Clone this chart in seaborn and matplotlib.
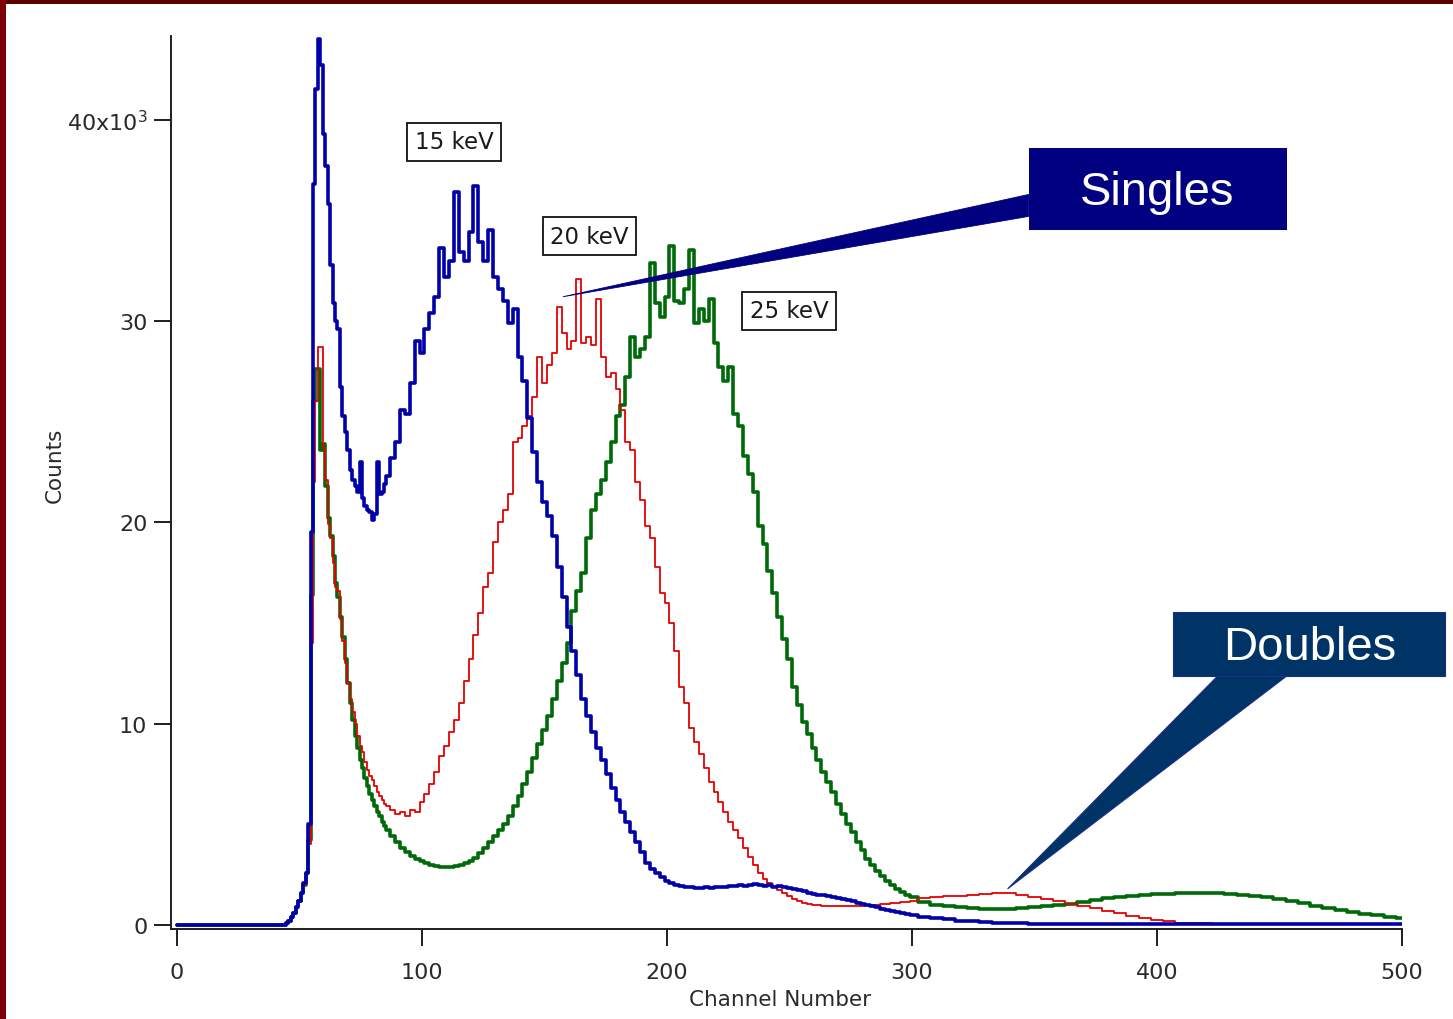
import numpy as np
import pandas as pd
import matplotlib
matplotlib.use("Agg")
import matplotlib.pyplot as plt
from matplotlib.patches import Polygon, Rectangle
import seaborn as sns

# ---------------------------------------------------------------------------
# Channel grid: flat pedestal, 1-channel bins through the low-energy spike,
# 2-channel bins across the main peaks, 5-channel bins in the tails.
# ---------------------------------------------------------------------------
CH_LEAD = [0, 44]
CH_FINE = list(range(45, 86))
CH_MID = list(range(86, 301, 2))
CH_TAIL = list(range(305, 501, 5))

# Counts (x10^3) per channel bin
lead_counts = [0.0, 0.0]

blue_fine = [0.1, 0.2, 0.4, 0.6, 0.9, 1.2, 1.6, 2.1, 2.6, 5.0,
             19.5, 36.8, 41.5, 44.0, 42.7, 39.3, 37.7, 35.8, 32.8, 30.9,
             30.0, 29.6, 26.7, 25.3, 24.5, 23.6, 22.6, 22.1, 21.8, 21.5,
             23.0, 21.2, 20.8, 20.6, 20.5, 20.1, 20.4, 23.0, 21.4, 21.5,
             21.9]
blue_mid = [22.3, 23.2, 24.0, 25.6, 25.4, 26.9, 29.0, 28.4, 29.6, 30.4,
            31.2, 33.6, 32.2, 33.0, 36.4, 33.4, 33.0, 34.4, 36.7, 33.9,
            33.0, 34.5, 32.2, 31.6, 31.0, 29.9, 30.6, 28.2, 27.0, 25.2,
            23.5, 22.0, 21.0, 20.3, 19.3, 17.8, 16.3, 14.8, 13.6, 12.4,
            11.2, 10.4, 9.6, 8.8, 8.2, 7.5, 6.8, 6.2, 5.6, 5.1,
            4.6, 4.1, 3.6, 3.1, 2.8, 2.6, 2.4, 2.2, 2.1, 2.0,
            1.95, 1.9, 1.9, 1.85, 1.85, 1.9, 1.85, 1.9, 1.9, 1.9,
            1.95, 1.95, 2.0, 1.95, 2.0, 2.05, 2.0, 1.95, 2.0, 1.9,
            1.95, 1.9, 1.85, 1.8, 1.75, 1.7, 1.6, 1.55,
            1.5, 1.47, 1.43, 1.4, 1.35, 1.3, 1.23, 1.17, 1.1, 1.05,
            0.99, 0.93, 0.87, 0.81, 0.75, 0.7, 0.64, 0.59, 0.54, 0.5]
blue_tail = [0.42, 0.35, 0.28, 0.22, 0.18, 0.14, 0.11, 0.09, 0.08, 0.07,
             0.07, 0.06, 0.06, 0.06, 0.05, 0.05, 0.05, 0.05, 0.05, 0.05,
             0.04, 0.04, 0.04, 0.04, 0.04, 0.03, 0.03, 0.03, 0.03, 0.03,
             0.03, 0.03, 0.03, 0.03, 0.03, 0.03, 0.03, 0.03, 0.03, 0.03]

red_fine = [0.1, 0.2, 0.4, 0.6, 0.9, 1.2, 1.6, 2.0, 2.6, 4.0,
            14.0, 22.0, 26.0, 28.7, 28.7, 23.7, 22.1, 19.9, 19.2, 18.0,
            16.8, 16.6, 15.2, 14.1, 13.0, 12.0, 11.2, 10.6, 10.0, 9.4,
            8.9, 8.6, 8.1, 7.7, 7.4, 7.2, 6.9, 6.6, 6.4, 6.2,
            6.0]
red_mid = [5.9, 5.7, 5.5, 5.6, 5.4, 5.7, 5.6, 6.1, 6.5, 7.0,
           7.6, 8.4, 8.9, 9.6, 10.2, 11.0, 12.1, 13.2, 14.4, 15.5,
           16.8, 17.5, 19.0, 20.0, 20.6, 21.4, 24.0, 24.2, 24.8, 25.3,
           26.2, 28.2, 26.9, 27.8, 28.4, 30.7, 29.4, 28.6, 29.0, 32.1,
           28.9, 29.2, 28.8, 31.1, 28.2, 27.2, 27.4, 26.6, 25.6, 24.0,
           23.6, 22.0, 21.1, 19.8, 19.2, 17.8, 16.5, 16.0, 15.0, 13.6,
           11.8, 11.0, 9.8, 9.1, 8.5, 7.8, 7.1, 6.6, 6.1, 5.6,
           5.1, 4.7, 4.3, 3.8, 3.4, 3.0, 2.6, 2.3, 2.1, 1.9,
           1.75, 1.6, 1.45, 1.3, 1.2, 1.1, 1.05, 1.0,
           0.98, 0.96, 0.95, 0.95, 0.94, 0.93, 0.92, 0.93, 0.94, 0.95,
           0.97, 0.99, 1.01, 1.03, 1.05, 1.07, 1.1, 1.13, 1.16, 1.2]
red_tail = [1.35, 1.4, 1.45, 1.45, 1.5, 1.55, 1.6, 1.6, 1.5, 1.4,
            1.3, 1.2, 1.05, 0.95, 0.85, 0.7, 0.6, 0.45, 0.35, 0.25,
            0.18, 0.12, 0.1, 0.08, 0.06, 0.05, 0.05, 0.05, 0.05, 0.05,
            0.05, 0.05, 0.05, 0.05, 0.05, 0.05, 0.05, 0.05, 0.05, 0.05]

green_fine = [0.1, 0.2, 0.4, 0.6, 0.9, 1.2, 1.6, 2.0, 2.6, 4.2,
              16.4, 26.0, 27.6, 27.6, 23.6, 23.9, 21.8, 20.2, 19.3, 18.3,
              17.0, 16.3, 15.3, 14.3, 13.2, 12.0, 11.0, 10.2, 9.4, 8.8,
              8.2, 7.8, 7.3, 6.9, 6.5, 6.2, 5.9, 5.6, 5.4, 5.1,
              4.9]
green_mid = [4.7, 4.4, 4.1, 3.8, 3.6, 3.45, 3.3, 3.2, 3.1, 3.0,
             2.95, 2.9, 2.9, 2.9, 2.95, 3.0, 3.1, 3.2, 3.35, 3.55,
             3.8, 4.1, 4.4, 4.7, 5.0, 5.4, 5.9, 6.4, 7.0, 7.6,
             8.3, 9.0, 9.7, 10.4, 11.2, 12.1, 13.0, 14.0, 15.6, 16.6,
             17.5, 19.2, 20.6, 21.4, 22.1, 23.0, 24.0, 25.3, 25.8, 27.2,
             29.2, 28.2, 28.6, 29.2, 32.9, 30.9, 30.2, 31.2, 33.7, 31.0,
             30.9, 31.6, 33.5, 29.9, 30.6, 30.0, 31.1, 28.9, 27.7, 27.0,
             27.7, 25.4, 24.8, 23.3, 22.4, 21.5, 19.8, 18.9, 17.6, 16.5,
             15.3, 14.2, 13.2, 11.8, 10.9, 10.1, 9.5, 8.8,
             8.2, 7.6, 7.1, 6.6, 6.0, 5.5, 5.0, 4.6, 4.1, 3.7,
             3.3, 3.0, 2.7, 2.45, 2.2, 2.0, 1.8, 1.65, 1.5, 1.4]
green_tail = [1.15, 1.0, 0.95, 0.9, 0.85, 0.8, 0.8, 0.8, 0.85, 0.9,
              0.95, 1.0, 1.05, 1.15, 1.25, 1.35, 1.4, 1.45, 1.5, 1.55,
              1.55, 1.6, 1.6, 1.6, 1.6, 1.55, 1.5, 1.45, 1.4, 1.3,
              1.2, 1.1, 0.95, 0.85, 0.75, 0.65, 0.55, 0.5, 0.4, 0.35]

SERIES = ["15 keV", "20 keV", "25 keV"]
COLORS = {"15 keV": "#0000aa", "20 keV": "#e60000", "25 keV": "#006a0a"}
WIDTHS = {"15 keV": 2.6, "20 keV": 1.3, "25 keV": 2.6}
ZORDER = {"15 keV": 4, "20 keV": 3, "25 keV": 2}

X_TICKS = [0, 100, 200, 300, 400, 500]
Y_TICKS = [0, 10, 20, 30, 40]
Y_TICK_LABELS = ["0", "10", "20", "30", "40x10$^{3}$"]

channels = CH_LEAD + CH_FINE + CH_MID + CH_TAIL
counts = {
    "15 keV": lead_counts + blue_fine + blue_mid + blue_tail,
    "20 keV": lead_counts + red_fine + red_mid + red_tail,
    "25 keV": lead_counts + green_fine + green_mid + green_tail,
}
df = pd.concat(
    [pd.DataFrame({"channel": channels, "counts": counts[s], "beam": s}) for s in SERIES],
    ignore_index=True,
)

# ---------------------------------------------------------------------------
# Figure
# ---------------------------------------------------------------------------
sns.set_style("white")
plt.rcParams["font.family"] = ["DejaVu Sans"]

W, H = 1453, 1020
fig = plt.figure(figsize=(W / 100, H / 100), dpi=100)
fig.patch.set_facecolor("white")
ax = fig.add_axes([171 / W, 1 - 930 / H, (1402 - 171) / W, (930 - 37) / H])
ax.set_facecolor("white")

for s in ["25 keV", "20 keV", "15 keV"]:
    sns.lineplot(data=df[df["beam"] == s], x="channel", y="counts", ax=ax,
                 color=COLORS[s], lw=WIDTHS[s], drawstyle="steps-mid",
                 estimator=None, legend=False, zorder=ZORDER[s])

ax.set_xlim(-2.45, 500)
ax.set_ylim(-0.2, 44.15)

ink = "#1e1e1e"
for side in ["top", "right"]:
    ax.spines[side].set_visible(False)
for side in ["left", "bottom"]:
    ax.spines[side].set_color(ink)
    ax.spines[side].set_linewidth(1.4)

ax.set_xticks(X_TICKS)
ax.set_xticklabels([str(t) for t in X_TICKS])
ax.set_yticks(Y_TICKS)
ax.set_yticklabels(Y_TICK_LABELS)
ax.tick_params(axis="both", which="major", direction="out", length=12,
               width=1.4, colors=ink, labelsize=16, labelcolor="#2a2a2a",
               bottom=True, left=True, top=False, right=False)
ax.tick_params(axis="x", pad=12)
ax.tick_params(axis="y", pad=5)

ax.set_xlabel("Channel Number", fontsize=15.5, color="#2a2a2a")
ax.set_ylabel("Counts", fontsize=15.5, color="#2a2a2a")
ax.xaxis.set_label_coords(0.4947, -0.0784)
ax.xaxis.label.set_va("center")
ax.yaxis.set_label_coords(-0.0942, 0.5207)
ax.yaxis.label.set_va("center")

# beam-energy tags
tag_style = dict(boxstyle="square,pad=0.33", fc="white", ec="#111111", lw=1.3)
for label, (cx, cy) in zip(SERIES, [(113.2, 38.9), (168.3, 34.2), (249.9, 30.5)]):
    ax.text(cx, cy, label, ha="center", va="center", fontsize=16.5,
            color="#1a1a1a", bbox=tag_style, zorder=7)

# "Singles" callout
ax.add_patch(Polygon([(347.6, 36.28), (347.6, 35.19), (157.5, 31.2)],
                     closed=True, fc="#000080", ec="#000080", lw=0.6,
                     zorder=8, clip_on=False))
ax.add_patch(Rectangle((347.6, 34.54), 105.3, 4.06, fc="#000080", ec="none",
                       zorder=8, clip_on=False))
ax.text(400.2, 35.83, "Singles", color="white", fontsize=34,
        family=["Liberation Sans", "DejaVu Sans"], ha="center", va="baseline",
        zorder=9, clip_on=False)

# "Doubles" callout
ax.add_patch(Polygon([(424.7, 12.36), (452.9, 12.36), (339.0, 1.79)],
                     closed=True, fc="#003366", ec="#1c2c8c", lw=0.8,
                     zorder=8, clip_on=False))
ax.add_patch(Rectangle((406.4, 12.36), 111.3, 3.17, fc="#003366", ec="#1c2c8c",
                       lw=0.8, zorder=8, clip_on=False))
ax.text(462.3, 13.2, "Doubles", color="white", fontsize=34,
        family=["Liberation Sans", "DejaVu Sans"], ha="center", va="baseline",
        zorder=9, clip_on=False)

# slide frame
fig.patches.append(Rectangle((0, 1 - 5 / H), 1, 5 / H, transform=fig.transFigure,
                             fc="#5e0000", ec="none", zorder=0))
fig.patches.append(Rectangle((0, 0), 6 / W, 1, transform=fig.transFigure,
                             fc="#7c0008", ec="none", zorder=0))

fig.savefig("out.png", dpi=100, facecolor=fig.get_facecolor())
